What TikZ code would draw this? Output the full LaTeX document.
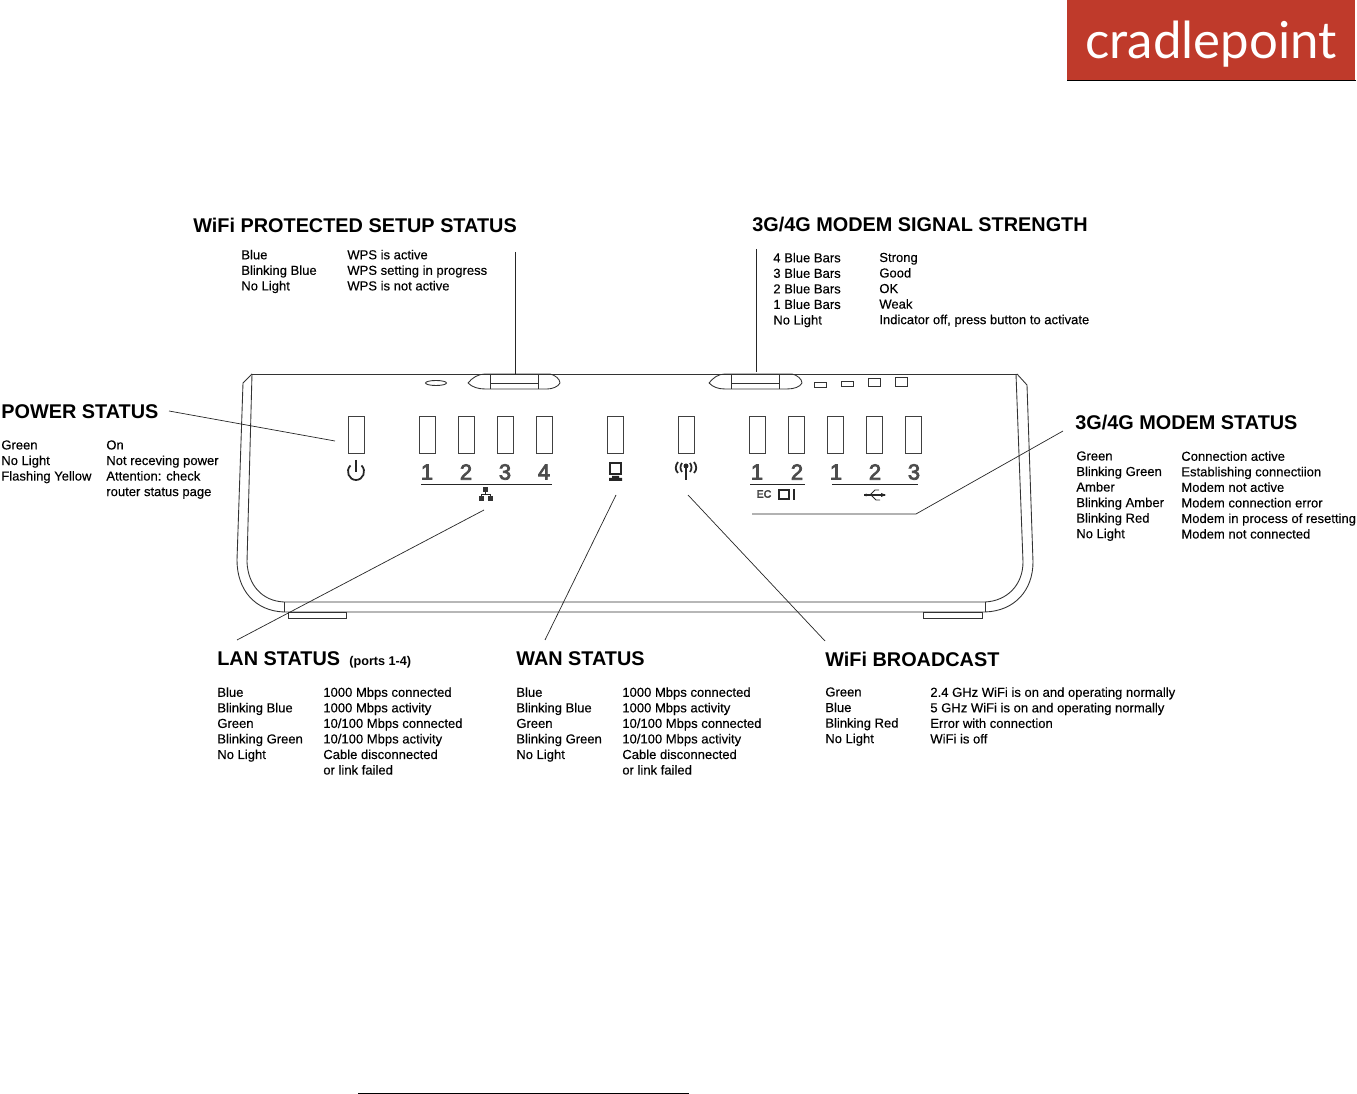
\documentclass[tikz,border=0pt]{standalone}
\usepackage{fontspec}
\setmainfont{Liberation Sans}
\newfontfamily\logofont{Lato}
\newfontfamily\rowfont[FakeBold=0.25]{Liberation Sans}
\newfontfamily\digitfont[FakeBold=3.5]{Liberation Sans}
\usepackage{tikz}
\usetikzlibrary{positioning}
\definecolor{logored}{HTML}{BF3A2B}
\tikzset{
  titletext/.style={anchor=west, inner sep=0pt, font=\fontsize{11.3}{14}\bfseries},
  rowtext/.style={anchor=north west, inner sep=0pt, align=left, font=\rowfont\fontsize{7.42}{8.85}\selectfont},
  ledbox/.style={draw=black!75, line width=0.5pt, minimum width=0.32cm, minimum height=0.74cm, inner sep=0pt},
  portnum/.style={inner sep=0pt, text=black!70, font=\digitfont\fontsize{12.5}{14}\selectfont},
  leader/.style={black!85, line width=0.4pt},
  shell/.style={black!80, line width=0.5pt},
  icon/.style={black!85, line width=0.7pt}
}
\begin{document}
\begin{tikzpicture}[x=0.02cm, y=-0.02cm]
\useasboundingbox (0,0) rectangle (1357,1094);
% logo
\node[fill=logored, anchor=north west, minimum width=5.76cm, minimum height=1.6cm, inner sep=0pt] (logo) at (1067,0) {};
\node[text=white, inner sep=0pt, font=\logofont\fontsize{29}{32}\selectfont] (logoname) at (1211,44) {cradlepoint};
\draw[black, line width=0.5pt] (logo.south west) -- (logo.south east);
% housing
\draw[shell] (252,374) -- (1017,374);
\draw[shell] (252,374) -- (243,383) -- (237,560) .. controls (237,590) and (255,611) .. (284,612) -- (985,612)
  .. controls (1015,611) and (1033,590) .. (1033,562) -- (1027,385) -- (1017,374);
\draw[shell] (252,374) -- (247,562) .. controls (248,585) and (262,601) .. (284,602) -- (985,602)
  .. controls (1007,601) and (1023,585) .. (1023,562) -- (1016,374);
\draw[shell] (284,602) -- (284,612);
\draw[shell] (985,602) -- (985,612);
\draw[shell] (288,612) rectangle (346,618);
\draw[shell] (923,612) rectangle (982,618);
% top buttons
\draw[shell] (468,383) .. controls (472,378) and (478,374) .. (485,374) -- (550,374) .. controls (555,375) and (560,379) .. (560,383)
  .. controls (558,387) and (552,389) .. (547,389) -- (485,389) .. controls (478,389) and (472,387) .. (468,383);
\draw[shell] (490,375) -- (490,389);
\draw[shell] (538,375) -- (538,389);
\draw[shell] (490,383) -- (538,383);
\draw[shell] (709,383) .. controls (713,378) and (718,374) .. (725,374) -- (792,374) .. controls (797,375) and (802,379) .. (802,383)
  .. controls (800,387) and (794,389) .. (787,389) -- (725,389) .. controls (718,389) and (713,387) .. (709,383);
\draw[shell] (731,375) -- (731,389);
\draw[shell] (779,375) -- (779,389);
\draw[shell] (731,383) -- (779,383);
\draw[shell] (436,383) ellipse (10.5 and 2.5);
\draw[shell] (814,382) rectangle (826,387);
\draw[shell] (841,381) rectangle (853,386);
\draw[shell] (868,378) rectangle (880,386);
\draw[shell] (895,377) rectangle (907,386);
% lights
\node[ledbox] (ledpower) at (356,434.5) {};
\node[ledbox] (ledlan1) at (427,434.5) {};
\node[ledbox] (ledlan2) at (466,434.5) {};
\node[ledbox] (ledlan3) at (505,434.5) {};
\node[ledbox] (ledlan4) at (544,434.5) {};
\node[ledbox] (ledwan) at (615,434.5) {};
\node[ledbox] (ledwifi) at (686,434.5) {};
\node[ledbox] (ledsig1) at (757,434.5) {};
\node[ledbox] (ledsig2) at (796,434.5) {};
\node[ledbox] (ledusb1) at (835,434.5) {};
\node[ledbox] (ledusb2) at (874,434.5) {};
\node[ledbox] (ledusb3) at (913,434.5) {};
% port numbers
\node[portnum] (numlan1) at (427,472) {1};
\node[portnum] (numlan2) at (466,472) {2};
\node[portnum] (numlan3) at (505,472) {3};
\node[portnum] (numlan4) at (544,472) {4};
\node[portnum] (numsig1) at (757,472) {1};
\node[portnum] (numsig2) at (797,472) {2};
\node[portnum] (numusb1) at (836,472) {1};
\node[portnum] (numusb2) at (875,472) {2};
\node[portnum] (numusb3) at (914,472) {3};
\draw[leader] (421,484) -- (552,484);
\draw[leader] (750,484) -- (805,484);
\draw[leader] (832,484) -- (918,484);
% icons
\draw[icon, line width=1pt] (350.5,465.5) .. controls (345,471) and (349,480) .. (356,480) .. controls (363,480) and (367,471) .. (361.5,465.5);
\draw[icon, line width=1pt] (356,460) -- (356,472);
\fill[black!80] (483,487) rectangle (488,492);
\fill[black!80] (479,496) rectangle (484,501);
\fill[black!80] (488,496) rectangle (493,501);
\draw[icon, line width=0.5pt] (485.5,492) -- (485.5,494) (481.5,496) -- (481.5,494) -- (490.5,494) -- (490.5,496);
\draw[icon] (610,463) rectangle (621,474);
\fill[black!85] (612,476) -- (619,476) -- (619,478) -- (622,478) -- (622,481) -- (609,481) -- (609,478) -- (612,478) -- cycle;
\draw[icon, line width=1pt] (686,466) -- (686,480);
\fill[black!85] (686,466) circle (2.5);
\draw[icon, line width=1pt] (682,463) .. controls (680,466) and (680,469) .. (682,472);
\draw[icon, line width=1pt] (690,463) .. controls (692,466) and (692,469) .. (690,472);
\draw[icon, line width=1pt] (678,462) .. controls (675,466) and (675,470) .. (678,473);
\draw[icon, line width=1pt] (694,462) .. controls (697,466) and (697,470) .. (694,473);
\node[inner sep=0pt, text=black!75, font=\digitfont\fontsize{6}{7}\selectfont] (ectext) at (764,494) {EC};
\draw[icon, line width=1.2pt] (779,490) rectangle (789,499);
\draw[icon, line width=1.2pt] (794,489) -- (794,500);
\draw[icon] (864,495) -- (885,495);
\fill[black!85] (866,495) circle (1.5);
\fill[black!85] (886,495) -- (881,493) -- (881,497) -- cycle;
\draw[icon, line width=0.5pt] (870,495) -- (875,490) -- (879,490);
\draw[icon, line width=0.5pt] (871,495) -- (876,500) -- (880,500);
% legends
\node[titletext] (titlewps) at (193,225) {WiFi PROTECTED SETUP STATUS};
\node[rowtext] (wpsa) at (241,249.5) {Blue\\Blinking Blue\\No Light};
\node[rowtext] (wpsb) at (347,249.5) {WPS is active\\WPS setting in progress\\WPS is not active};
\node[titletext] (titlesig) at (752,225) {3G/4G MODEM SIGNAL STRENGTH};
\node[rowtext] (siga) at (773,252.5) {4 Blue Bars\\3 Blue Bars\\2 Blue Bars\\1 Blue Bars\\No Light};
\node[rowtext] (sigb) at (879,252.5) {Strong\\Good\\OK\\Weak\\Indicator off, press button to activate};
\node[titletext] (titlepower) at (1,412) {POWER STATUS};
\node[rowtext] (powera) at (1,440) {Green\\No Light\\Flashing Yellow};
\node[rowtext] (powerb) at (106,440) {On\\Not receving power\\Attention: check\\router status page};
\node[titletext] (titlemodem) at (1075,423) {3G/4G MODEM STATUS};
\node[rowtext] (modema) at (1076,451) {Green\\Blinking Green\\Amber\\Blinking Amber\\Blinking Red\\No Light};
\node[rowtext] (modemb) at (1181,451) {Connection active\\Establishing connectiion\\Modem not active\\Modem connection error\\Modem in process of resetting\\Modem not connected};
\node[titletext] (titlelan) at (217,659) {LAN STATUS};
\node[inner sep=0pt, anchor=west, font=\fontsize{7.2}{8}\bfseries] (portsnote) at (349,662) {(ports 1-4)};
\node[rowtext] (lana) at (217,687) {Blue\\Blinking Blue\\Green\\Blinking Green\\No Light};
\node[rowtext] (lanb) at (323,687) {1000 Mbps connected\\1000 Mbps activity\\10/100 Mbps connected\\10/100 Mbps activity\\Cable disconnected\\or link failed};
\node[titletext] (titlewan) at (516,659) {WAN STATUS};
\node[rowtext] (wana) at (516,687) {Blue\\Blinking Blue\\Green\\Blinking Green\\No Light};
\node[rowtext] (wanb) at (622,687) {1000 Mbps connected\\1000 Mbps activity\\10/100 Mbps connected\\10/100 Mbps activity\\Cable disconnected\\or link failed};
\node[titletext] (titlewifi) at (825,659) {WiFi BROADCAST};
\node[rowtext] (wifia) at (825,687) {Green\\Blue\\Blinking Red\\No Light};
\node[rowtext] (wifib) at (930,687) {2.4 GHz WiFi is on and operating normally\\5 GHz WiFi is on and operating normally\\Error with connection\\WiFi is off};
% leader lines
\coordinate (wpstop) at (515,252);
\coordinate (wpsend) at (515,374);
\coordinate (sigtop) at (756,249);
\coordinate (sigend) at (756,372);
\coordinate (powerstart) at (169,411);
\coordinate (powerend) at (335,441);
\coordinate (lanstart) at (237,640);
\coordinate (lanend) at (484,510);
\coordinate (wanstart) at (545,640);
\coordinate (wanend) at (616,495);
\coordinate (wifistart) at (825,641);
\coordinate (wifiend) at (688,495);
\coordinate (modemstart) at (1063,431);
\coordinate (modemknee) at (916,514);
\coordinate (modemend) at (752,514);
\draw[leader] (wpstop) -- (wpsend);
\draw[leader] (sigtop) -- (sigend);
\draw[leader] (powerstart) -- (powerend);
\draw[leader] (lanstart) -- (lanend);
\draw[leader] (wanstart) -- (wanend);
\draw[leader] (wifistart) -- (wifiend);
\draw[leader] (modemstart) -- (modemknee) -- (modemend);
% page rule
\coordinate (rulea) at (358,1093);
\coordinate (ruleb) at (689,1093);
\draw[black, line width=0.5pt] (rulea) -- (ruleb);
\end{tikzpicture}
\end{document}
